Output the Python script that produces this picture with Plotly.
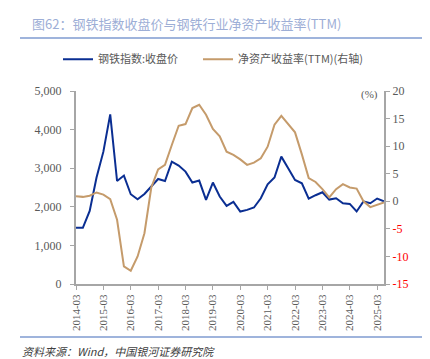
import plotly.graph_objects as go

quarters = [f"{y}-{m:02d}" for y in range(2014, 2026) for m in (3, 6, 9, 12)][:46]
steel_index = [1455, 1455, 1894, 2757, 3429, 4393, 2669, 2809, 2326, 2196, 2333, 2524,
               2721, 2669, 3170, 3067, 2912, 2628, 2680, 2179, 2628, 2266, 2024,
               2127, 1878, 1920, 1982, 2222, 2584, 2757, 3300, 2997, 2695, 2610,
               2214, 2300, 2377, 2188, 2222, 2093, 2075, 1878, 2137, 2093, 2214, 2145]
roe_ttm = [0.9, 0.8, 1.0, 1.6, 1.2, 0.4, -3.35, -11.8, -12.6, -10.0, -5.8, 2.5,
           5.8, 6.6, 10.2, 13.7, 14.0, 16.9, 17.5, 15.7, 13.1, 11.8, 9.0,
           8.4, 7.6, 6.6, 7.0, 7.8, 9.9, 13.9, 15.5, 14.0, 12.5, 8.5,
           4.2, 3.5, 2.2, 0.7, 2.2, 3.1, 2.5, 2.3, 0.0, -1.05, -0.6, -0.2]
year_ticks = [f"{y}-03" for y in range(2014, 2026)]
left_ticks = [0, 1000, 2000, 3000, 4000, 5000]
right_ticks = [-15, -10, -5, 0, 5, 10, 15, 20]

CJK = "Noto Sans CJK SC"
NUM = "Liberation Serif"
AXIS = "#A6A6A6"
GRAY = "#595959"

fig = go.Figure()
fig.add_trace(go.Scatter(x=quarters, y=steel_index, name="钢铁指数:收盘价",
                         mode="lines", line=dict(color="#0A2E92", width=2), legend="legend"))
fig.add_trace(go.Scatter(x=quarters, y=roe_ttm, name="净资产收益率(TTM)(右轴)",
                         mode="lines", line=dict(color="#C59B6B", width=2), yaxis="y2",
                         legend="legend2"))

right_text = [f'<span style="color:#FF0000">{v}</span>' if v < 0 else str(v) for v in right_ticks]

legend_style = dict(orientation="h", xanchor="left", y=1.165, yanchor="middle",
                    font=dict(family=CJK, size=11, color=GRAY), itemwidth=30,
                    bgcolor="rgba(0,0,0,0)")

fig.update_layout(
    width=430, height=359,
    margin=dict(l=68, r=54, t=83, b=83),
    plot_bgcolor="white", paper_bgcolor="white",
    showlegend=True,
    legend=dict(x=(50 - 68) / 308, **legend_style),
    legend2=dict(x=(190 - 68) / 308, **legend_style),
    xaxis=dict(type="category", range=[0, 45], tickmode="array", tickvals=year_ticks,
               ticktext=year_ticks, tickangle=-90, ticks="outside", ticklen=4,
               tickcolor=AXIS, showline=True, linecolor=AXIS, linewidth=2,
               showgrid=False, tickfont=dict(family=NUM, size=11, color=GRAY)),
    yaxis=dict(range=[0, 5000], tickvals=left_ticks, tickformat=",", ticks="outside",
               ticklen=4, tickcolor=AXIS, showline=True, linecolor=AXIS, linewidth=2,
               showgrid=False, zeroline=False, ticklabelstandoff=6,
               tickfont=dict(family=NUM, size=12, color=GRAY)),
    yaxis2=dict(range=[-15, 20], overlaying="y", side="right", tickmode="array",
                tickvals=right_ticks, ticktext=right_text, ticks="outside", ticklen=4,
                tickcolor=AXIS, showline=True, linecolor=AXIS, linewidth=2,
                showgrid=False, zeroline=False,
                tickfont=dict(family=NUM, size=12, color=GRAY)),
    annotations=[
        dict(text="图62：钢铁指数收盘价与钢铁行业净资产收益率(TTM)", xref="paper", yref="paper",
             x=(22 - 68) / 308, y=(276 - 15) / 193, xanchor="left", yanchor="middle",
             showarrow=False, font=dict(family=CJK, size=13, color="#9DAED6")),
        dict(text="(%)", xref="paper", yref="paper", x=(372 - 68) / 308, y=(276 - 86) / 193,
             xanchor="right", yanchor="middle", showarrow=False,
             font=dict(family=NUM, size=11, color=GRAY)),
        dict(text="<i>资料来源：Wind，中国银河证券研究院</i>", xref="paper", yref="paper",
             x=(12 - 68) / 308, y=(276 - 343) / 193, xanchor="left", yanchor="middle",
             showarrow=False, font=dict(family=CJK, size=11, color="#404040")),
    ],
    shapes=[
        dict(type="line", xref="paper", yref="paper", x0=(12 - 68) / 308, x1=(417 - 68) / 308,
             y0=(276 - 30) / 193, y1=(276 - 30) / 193, line=dict(color="#7F9BD0", width=1.5)),
        dict(type="line", xref="paper", yref="paper", x0=(12 - 68) / 308, x1=(417 - 68) / 308,
             y0=(276 - 329) / 193, y1=(276 - 329) / 193, line=dict(color="#7F9BD0", width=1.5)),
    ],
)

fig.write_html("out.html")
